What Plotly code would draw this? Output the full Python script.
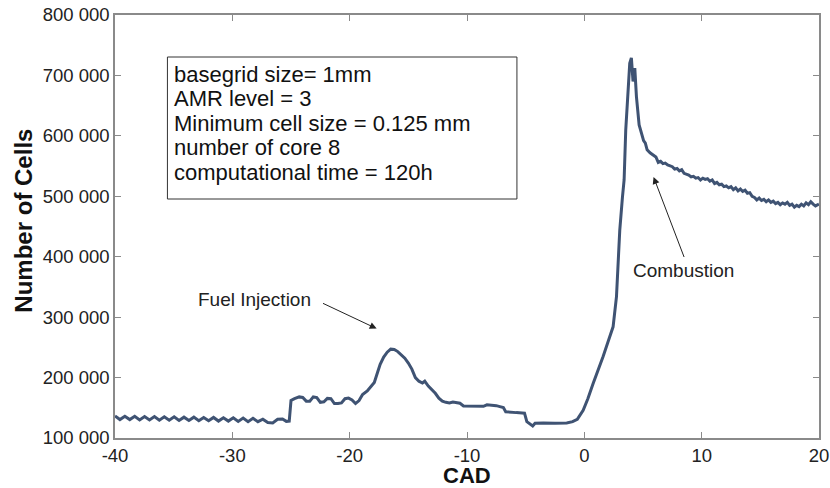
import plotly.graph_objects as go

# ---------------- data ----------------
cad = [
    -40.0, -39.58, -39.16, -38.74, -38.32, -37.9, -37.48, -37.06, -36.64, -36.22,
    -35.8, -35.38, -34.96, -34.54, -34.12, -33.7, -33.28, -32.86, -32.44, -32.02,
    -31.6, -31.18, -30.76, -30.34, -29.92, -29.5, -29.08, -28.66, -28.24, -27.82,
    -27.4, -26.98, -26.56, -26.14, -25.72, -25.4, -25.15,
    -25.0, -24.7, -24.3, -24.0, -23.7, -23.4, -23.1, -22.8, -22.5, -22.2,
    -21.9, -21.6, -21.3, -21.0, -20.7, -20.4, -20.1, -19.8, -19.5, -19.2,
    -18.9, -18.5, -18.2, -17.9, -17.6, -17.4, -17.1, -16.8, -16.5, -16.2,
    -15.9, -15.6, -15.3, -15.0, -14.7, -14.4, -14.1, -13.8, -13.6, -13.3,
    -13.0, -12.7, -12.4, -12.1, -11.8, -11.5, -11.2, -10.9, -10.6, -10.3,
    -10.0, -9.5, -9.0, -8.6, -8.3, -7.9, -7.5, -7.2, -6.9, -6.7,
    -6.3, -5.8, -5.3, -5.1, -4.9, -4.6, -4.4, -4.2, -3.5, -2.5,
    -1.5, -1.0, -0.6, -0.1, 0.3, 0.75, 1.2, 1.6, 2.0, 2.45,
    2.74, 2.88, 3.02, 3.25, 3.39, 3.53, 3.68, 3.87, 4.01, 4.15,
    4.3, 4.44, 4.67, 4.87, 5.05, 5.2, 5.35, 5.6, 5.9, 6.1,
    6.3, 6.5, 6.7, 6.9, 7.1, 7.3, 7.5, 7.7, 7.9, 8.1,
    8.3, 8.5, 8.7, 8.9, 9.1, 9.3, 9.5, 9.7, 9.9, 10.1,
    10.3, 10.5, 10.7, 10.9, 11.1, 11.3, 11.5, 11.7, 11.9, 12.1,
    12.3, 12.5, 12.7, 12.9, 13.1, 13.3, 13.5, 13.7, 13.9, 14.1,
    14.3, 14.5, 14.7, 14.9, 15.1, 15.3, 15.5, 15.7, 15.9, 16.1,
    16.3, 16.5, 16.7, 16.9, 17.1, 17.3, 17.5, 17.7, 17.9, 18.1,
    18.3, 18.5, 18.7, 18.9, 19.1, 19.3, 19.5, 19.7, 20.0,
]
cells = [
    136500, 130500, 136000, 130500, 136000, 130000, 135500, 130000, 135500, 129500,
    135000, 129500, 135000, 129000, 134500, 129000, 134500, 128500, 134000, 128500,
    134000, 128000, 133500, 128000, 133500, 127500, 133000, 127000, 132500, 127000,
    131000, 125500, 125000, 131000, 131500, 127500, 128000,
    162000, 165000, 168000, 167000, 161000, 161000, 168000, 167000, 159000, 160000,
    165500, 165000, 157000, 157000, 158000, 165000, 166000, 163000, 157000, 162000,
    172000, 178000, 186000, 192000, 210000, 222000, 234000, 242000, 247000, 246500,
    243000, 238000, 232000, 224000, 214000, 200000, 194000, 191000, 194000, 186000,
    180000, 174000, 166000, 161000, 159000, 158000, 159500, 159000, 157500, 153000,
    153000, 153000, 152500, 152500, 155000, 154500, 153500, 152000, 150500, 143500,
    142500, 142000, 141500, 141000, 127000, 122000, 120000, 124500, 125000, 124500,
    125000, 127000, 131000, 146000, 165000, 190000, 213000, 235000, 258000, 284000,
    334000, 389000, 444000, 499000, 527000, 610000, 665000, 720000, 729000, 690000,
    712000, 665000, 618000, 603000, 592000, 588000, 577000, 572000, 568000, 565000,
    556000, 558000, 554000, 555000, 552000, 550000, 549000, 545000, 546000, 542000,
    544000, 538000, 537000, 535000, 532000, 533000, 530000, 531000, 527000, 530000,
    528000, 529000, 525000, 527000, 521000, 523000, 519000, 520000, 516000, 517000,
    514000, 516000, 511000, 514000, 509000, 512000, 508000, 510000, 505000, 506000,
    500000, 498000, 494000, 497000, 493000, 495000, 491000, 494000, 490000, 492000,
    488000, 490000, 486000, 489000, 487000, 490000, 485000, 487000, 482000, 485000,
    483000, 487000, 484000, 489000, 486000, 491000, 487000, 484000, 487000,
]

x_ticks = [-40, -30, -20, -10, 0, 10, 20]
x_tick_text = ["-40", "-30", "-20", "-10", "0", "10", "20"]
y_ticks = [100000, 200000, 300000, 400000, 500000, 600000, 700000, 800000]
y_tick_text = ["100 000", "200 000", "300 000", "400 000",
               "500 000", "600 000", "700 000", "800 000"]

info_lines = [
    "basegrid size= 1mm",
    "AMR level = 3",
    "Minimum cell size = 0.125 mm",
    "number of core 8",
    "computational time = 120h",
]

fuel_label = "Fuel Injection"
fuel_text_pos = (-28.1, 330000)
fuel_arrow_tail = (-22.4, 324000)
fuel_arrow_head = (-17.7, 281000)

comb_label = "Combustion"
comb_text_pos = (8.43, 378000)
comb_arrow_tail = (8.55, 397000)
comb_arrow_head = (5.9, 532000)

# ---------------- figure ----------------
LINE = "#3f5373"
AXIS = "#8a8a8a"
FONT = "Arial, Liberation Sans, sans-serif"

L, R, T, B = 114.5, 819.5, 15, 438   # plot area in pixels
PW, PH = R - L, B - T

fig = go.Figure()
fig.add_trace(go.Scatter(x=cad, y=cells, mode="lines",
                         line=dict(color=LINE, width=3), showlegend=False))

axis_common = dict(showgrid=False, zeroline=False, showline=True, linecolor=AXIS,
                   linewidth=1.5, mirror="ticks", ticks="inside", ticklen=6,
                   tickcolor=AXIS, tickwidth=1.2, automargin=False,
                   tickfont=dict(family=FONT, size=18.5, color="#222"))

fig.update_xaxes(range=[-40, 20], tickvals=x_ticks, ticktext=x_tick_text,
                 ticklabelstandoff=0, **axis_common)
fig.update_yaxes(range=[100000, 800000], tickvals=y_ticks, ticktext=y_tick_text,
                 ticklabelstandoff=0, **axis_common)


def px(xp):
    return (xp - L) / PW


def py(yp):
    return (B - yp) / PH


annotations = []
# axis titles
annotations.append(dict(text="<b>Number of Cells</b>", xref="paper", yref="paper",
                        x=px(22), y=py(221), textangle=-90, showarrow=False,
                        xanchor="center", yanchor="middle",
                        font=dict(family=FONT, size=24, color="#111")))
annotations.append(dict(text="<b>CAD</b>", xref="paper", yref="paper",
                        x=px(467), y=py(475), showarrow=False,
                        xanchor="center", yanchor="middle",
                        font=dict(family=FONT, size=22, color="#111")))

# info box lines
line_py = [74, 98.5, 123, 147.5, 172]
for txt, yp in zip(info_lines, line_py):
    annotations.append(dict(text=txt, xref="paper", yref="paper",
                            x=px(172), y=py(yp),
                            xanchor="left", yanchor="middle", showarrow=False,
                            font=dict(family=FONT, size=22, color="#111")))

# event labels
annotations.append(dict(text=fuel_label, x=fuel_text_pos[0], y=fuel_text_pos[1],
                        showarrow=False, font=dict(family=FONT, size=19, color="#222")))
annotations.append(dict(text=comb_label, x=comb_text_pos[0], y=comb_text_pos[1],
                        showarrow=False, font=dict(family=FONT, size=19, color="#222")))
# arrows
for tail, head in [(fuel_arrow_tail, fuel_arrow_head), (comb_arrow_tail, comb_arrow_head)]:
    annotations.append(dict(text="", x=head[0], y=head[1], ax=tail[0], ay=tail[1],
                            xref="x", yref="y", axref="x", ayref="y",
                            showarrow=True, arrowhead=2, arrowsize=1.4,
                            arrowwidth=1, arrowcolor="#222"))

fig.update_layout(
    width=830, height=488,
    margin=dict(l=L, r=830 - R, t=T, b=488 - B, autoexpand=False),
    paper_bgcolor="white", plot_bgcolor="white",
    annotations=annotations,
    shapes=[dict(type="rect", xref="paper", yref="paper",
                 x0=px(167), x1=px(517), y0=py(199), y1=py(57),
                 line=dict(color="#333", width=1), fillcolor="white", layer="below")],
)

fig.write_html("out.html",
               config={"displayModeBar": False},
               post_script="document.body.style.margin='0';"
                           "document.body.style.overflow='hidden';")
